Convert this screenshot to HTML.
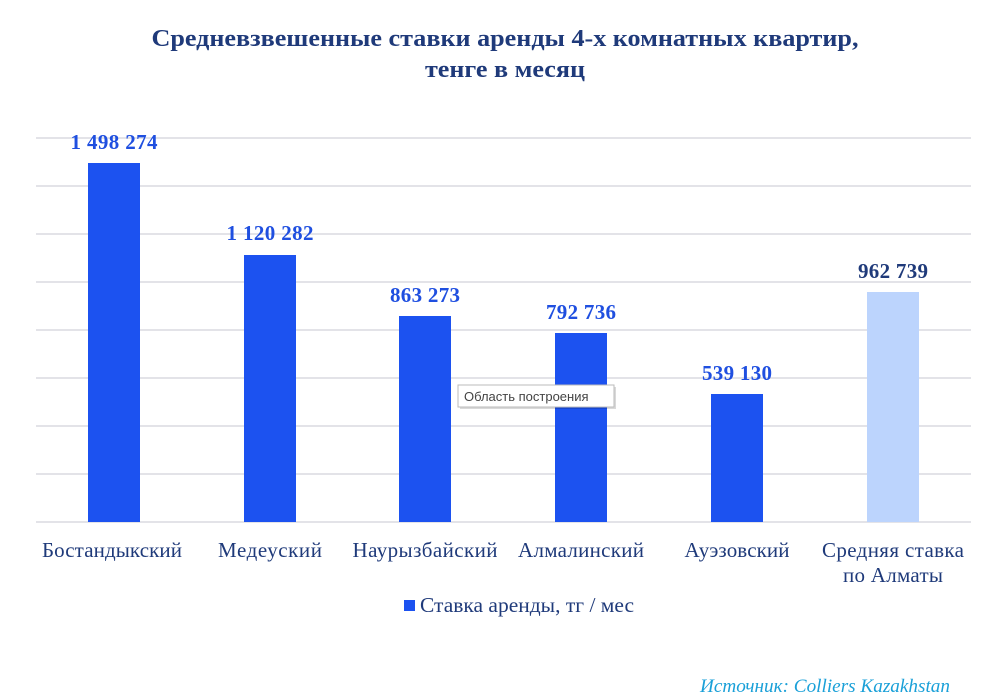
<!DOCTYPE html>
<html><head><meta charset="utf-8"><style>
body{margin:0;background:#fff;width:1007px;height:695px;overflow:hidden}
</style></head><body>
<svg width="1007" height="695" xmlns="http://www.w3.org/2000/svg" font-family="Liberation Serif, serif">
<rect width="1007" height="695" fill="#fff"/>
<text x="505" y="46" text-anchor="middle" font-size="24" font-weight="bold" fill="#1f3a7a" textLength="707" lengthAdjust="spacingAndGlyphs">Средневзвешенные ставки аренды 4-х комнатных квартир,</text>
<text x="505" y="77" text-anchor="middle" font-size="24" font-weight="bold" fill="#1f3a7a" textLength="160" lengthAdjust="spacingAndGlyphs">тенге в месяц</text>
<g stroke="#e3e3e8" stroke-width="2">
<line x1="36" x2="971" y1="138" y2="138"/><line x1="36" x2="971" y1="186" y2="186"/>
<line x1="36" x2="971" y1="234" y2="234"/><line x1="36" x2="971" y1="282" y2="282"/>
<line x1="36" x2="971" y1="330" y2="330"/><line x1="36" x2="971" y1="378" y2="378"/>
<line x1="36" x2="971" y1="426" y2="426"/><line x1="36" x2="971" y1="474" y2="474"/>
<line x1="36" x2="971" y1="522" y2="522"/>
</g>
<g fill="#1c52f0">
<rect x="88" y="163" width="52" height="359"/>
<rect x="244" y="255" width="52" height="267"/>
<rect x="399" y="316" width="52" height="206"/>
<rect x="555" y="333" width="52" height="189"/>
<rect x="711" y="394" width="52" height="128"/>
</g>
<rect x="867" y="292" width="52" height="230" fill="#bcd4fd"/>
<g font-size="21" font-weight="bold" text-anchor="middle" fill="#1f4fe0" lengthAdjust="spacingAndGlyphs">
<text x="114" y="149" textLength="87">1 498 274</text>
<text x="270" y="240" textLength="87">1 120 282</text>
<text x="425" y="302" textLength="70">863 273</text>
<text x="581" y="319" textLength="70">792 736</text>
<text x="737" y="380" textLength="70">539 130</text>
<text x="893" y="278" fill="#1f3a7a" textLength="70">962 739</text>
</g>
<g font-size="21" text-anchor="middle" fill="#1f3a7a" lengthAdjust="spacingAndGlyphs">
<text x="112" y="557" textLength="140">Бостандыкский</text>
<text x="270" y="557" textLength="104">Медеуский</text>
<text x="425" y="557" textLength="145">Наурызбайский</text>
<text x="581" y="557" textLength="126">Алмалинский</text>
<text x="737" y="557" textLength="105">Ауэзовский</text>
<text x="893" y="557" textLength="142">Средняя ставка</text>
<text x="893" y="582" textLength="100">по Алматы</text>
</g>
<rect x="404" y="600" width="11" height="11" fill="#1c52f0"/>
<text x="420" y="612" font-size="21" fill="#1f3a7a" textLength="214" lengthAdjust="spacingAndGlyphs">Ставка аренды, тг / мес</text>
<text x="950" y="692" text-anchor="end" font-size="19" font-style="italic" fill="#1aa0d8" textLength="250" lengthAdjust="spacingAndGlyphs">Источник: Colliers Kazakhstan</text>
<rect x="460" y="387" width="156" height="22" fill="#000" opacity="0.15"/>
<rect x="458" y="385" width="156" height="22" fill="#fff" stroke="#bbb"/>
<text x="464" y="401" font-family="Liberation Sans, sans-serif" font-size="13" fill="#444">Область построения</text>
</svg>
</body></html>
